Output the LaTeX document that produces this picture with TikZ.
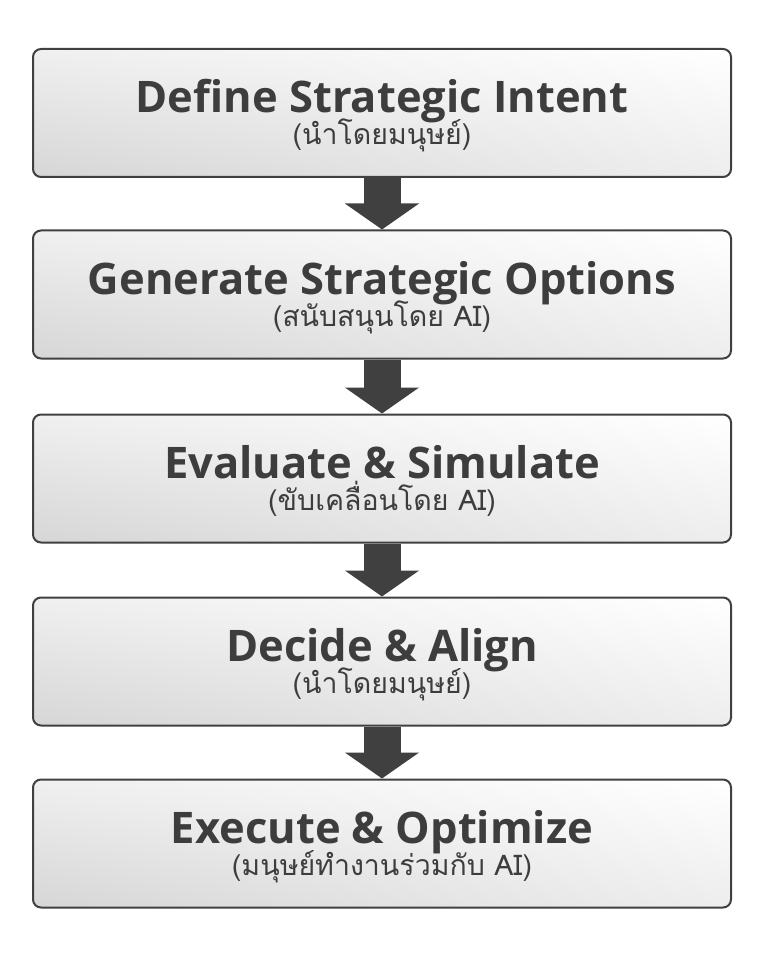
\documentclass[tikz,border=0pt]{standalone}
\usepackage{fontspec}
\setmainfont{Open Sans}
\newfontfamily\titlefont{Open Sans}[UprightFont={* Bold}]
\newfontfamily\thaifont[Script=Thai]{Loma}
\usetikzlibrary{arrows.meta,shadings}
\definecolor{ink}{HTML}{3D3D3D}
\definecolor{edge}{HTML}{404040}
\tikzset{
  stepbox/.style={draw=edge, line width=2pt, rounded corners=8pt,
    minimum width=698pt, minimum height=128pt, inner sep=0pt,
    upper left=gray!12, upper right=white, lower left=gray!32, lower right=gray!14},
  titletext/.style={anchor=base, text=ink, font=\titlefont\fontsize{43.5}{48}\selectfont, inner sep=0pt},
  subtext/.style={anchor=base, text=ink, font=\thaifont\fontsize{28.5}{32}\selectfont, inner sep=0pt},
  flowarrow/.style={draw=edge, line width=37pt, line cap=butt,
    -{Triangle[width=73pt,length=26pt]}, shorten >=0pt}
}
\begin{document}
\begin{tikzpicture}[x=1pt,y=-1pt]
\useasboundingbox (0,0) rectangle (759,957);
\node[stepbox] (b1) at (382,113) {};
\node[stepbox] (b2) at (382,294.5) {};
\node[stepbox] (b3) at (382,478.5) {};
\node[stepbox] (b4) at (382,661.5) {};
\node[stepbox] (b5) at (382,843.5) {};
\node[titletext] (t1) at (382,113) {Define Strategic Intent};
\node[subtext] (s1) at (382,145) {(นำโดยมนุษย์)};
\node[titletext] (t2) at (382,294.5) {Generate Strategic Options};
\node[subtext] (s2) at (382,326.5) {(สนับสนุนโดย AI)};
\node[titletext] (t3) at (382,478.5) {Evaluate \& Simulate};
\node[subtext] (s3) at (382,510.5) {(ขับเคลื่อนโดย AI)};
\node[titletext] (t4) at (382,661.5) {Decide \& Align};
\node[subtext] (s4) at (382,693.5) {(นำโดยมนุษย์)};
\node[titletext] (t5) at (382,843.5) {Execute \& Optimize};
\node[subtext] (s5) at (382,875.5) {(มนุษย์ทำงานร่วมกับ AI)};
\draw[flowarrow] (b1.south) -- (b2.north);
\draw[flowarrow] (b2.south) -- (b3.north);
\draw[flowarrow] (b3.south) -- (b4.north);
\draw[flowarrow] (b4.south) -- (b5.north);
\end{tikzpicture}
\end{document}
